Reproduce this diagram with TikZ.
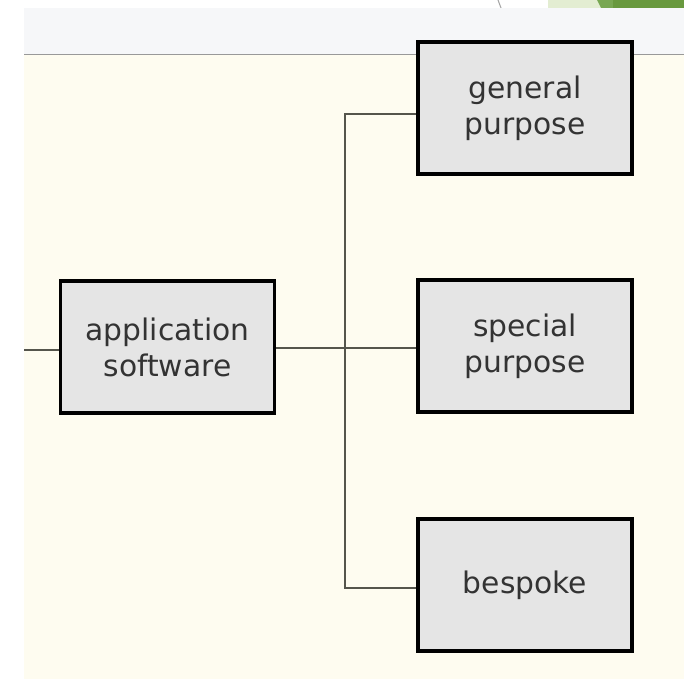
\documentclass[tikz,border=0pt]{standalone}
\usepackage{fontspec}
\setmainfont{DejaVu Sans}
\definecolor{strip}{HTML}{F6F7F9}
\definecolor{cream}{HTML}{FEFCF0}
\definecolor{boxfill}{HTML}{E5E5E5}
\definecolor{wire}{HTML}{55554C}
\definecolor{txt}{HTML}{333333}
\definecolor{lgreen}{HTML}{E3EDD2}
\definecolor{mgreen}{HTML}{78A752}
\definecolor{dgreen}{HTML}{68993E}
\tikzset{
  box/.style={draw=black, line width=2.8pt, fill=boxfill, minimum width=214*0.75pt, minimum height=132*0.75pt,
    align=center, text=txt, font=\fontsize{22.3}{27}\selectfont, inner sep=0pt},
  wireline/.style={draw=wire, line width=1.8pt}
}
\begin{document}
\begin{tikzpicture}[x=0.75pt,y=-0.75pt]
\useasboundingbox (0,0) rectangle (684,679);
\fill[white] (0,0) rectangle (684,679);
% top-right decoration
\draw[gray!70, line width=0.8pt] (498,0) -- (501,8);
\fill[lgreen] (548,0) -- (597,0) -- (601,8) -- (548,8) -- cycle;
\fill[mgreen] (597,0) -- (613,0) -- (613,8) -- (601,8) -- cycle;
\fill[dgreen] (613,0) rectangle (684,8);
% header strip and cream area
\fill[strip] (24,8) rectangle (684,54);
\fill[cream] (24,55) rectangle (684,679);
\draw[gray!80, line width=1.2pt] (24,54.5) -- (684,54.5);
% nodes
\node[box] (app) at (167.5,347) {application\\software};
\node[box] (gen) at (525,108) {general\\purpose};
\node[box] (spec) at (525,346) {special\\purpose};
\node[box] (besp) at (525,585) {bespoke};
\coordinate (in) at (24,350);
\coordinate (jt) at (345,114);
\coordinate (jb) at (345,588);
% connectors
\draw[wireline] (in) -- (app.west |- in);
\draw[wireline] (app.east |- 0,348) -- (spec.west |- 0,348);
\draw[wireline] (gen.west |- jt) -- (jt) -- (jb) -- (besp.west |- jb);
\end{tikzpicture}
\end{document}
